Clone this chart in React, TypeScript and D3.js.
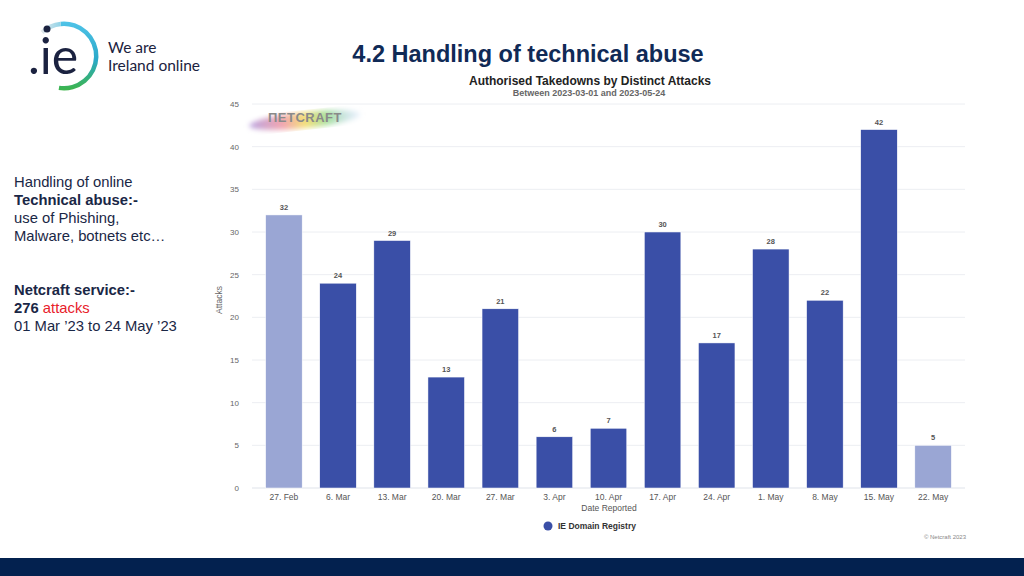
import React from "react";
import * as d3 from "d3";

const categories = ["27. Feb", "6. Mar", "13. Mar", "20. Mar", "27. Mar", "3. Apr", "10. Apr", "17. Apr", "24. Apr", "1. May", "8. May", "15. May", "22. May"];
const attacks = [32, 24, 29, 13, 21, 6, 7, 30, 17, 28, 22, 42, 5];
const partialWeek = [true, false, false, false, false, false, false, false, false, false, false, false, true];
const yTicks = [0, 5, 10, 15, 20, 25, 30, 35, 40, 45];

const W = 1024, H = 576;
const plotLeft = 252, plotRight = 965, y0 = 488, y45 = 104;

export default function App() {
  const x = d3.scaleBand<string>().domain(categories).range([257, 960]).paddingInner(0.325).paddingOuter(0.16);
  const y = d3.scaleLinear().domain([0, 45]).range([y0, y45]);
  const font = "Liberation Sans, Arial, Helvetica, sans-serif";
  const navy = "#102a56";
  const arc = d3.arc();
  const ringPath = arc({ innerRadius: 30, outerRadius: 34.5, startAngle: -0.1, endAngle: Math.PI * 1.05 }) as string;
  const ringPath2 = arc({ innerRadius: 30, outerRadius: 34.5, startAngle: -0.75, endAngle: -0.1 }) as string;
  return (
    <svg width={W} height={H} style={{ position: "absolute", left: 0, top: 0, background: "#fff" }} fontFamily={font}>
      <defs>
        <linearGradient id="ring" x1="0" y1="0" x2="0" y2="1">
          <stop offset="0" stopColor="#4fc3e8" />
          <stop offset="0.55" stopColor="#2aa9c9" />
          <stop offset="1" stopColor="#3db54a" />
        </linearGradient>
        <linearGradient id="ringTop" x1="0" y1="0" x2="1" y2="0">
          <stop offset="0" stopColor="#e6e8ea" />
          <stop offset="1" stopColor="#8fd3e8" />
        </linearGradient>
        <linearGradient id="rainbow" x1="0" y1="0" x2="1" y2="0">
          <stop offset="0" stopColor="#b9a3e0" />
          <stop offset="0.3" stopColor="#f2a6b0" />
          <stop offset="0.5" stopColor="#f4e07a" />
          <stop offset="0.7" stopColor="#a8e0a0" />
          <stop offset="1" stopColor="#a8c8f0" stopOpacity="0.2" />
        </linearGradient>
        <filter id="blur"><feGaussianBlur stdDeviation="2.5" /></filter>
      </defs>
      <rect x={0} y={0} width={W} height={H} fill="#fff" />

      {/* Logo */}
      <g transform="translate(64,56)">
        <path d={ringPath} fill="url(#ring)" />
        <path d={ringPath2} fill="url(#ringTop)" />
      </g>
      <circle cx={47} cy={29} r={3.5} fill="#1b2240" />
      <text x={28} y={74} fontSize={50} fill="#1b2240" fontFamily="Lato, sans-serif">.ie</text>
      <text x={108} y={53} fontSize={15.5} fill="#1b2240" fontFamily="Lato, sans-serif">We are</text>
      <text x={108} y={71} fontSize={15.5} fill="#1b2240" fontFamily="Lato, sans-serif">Ireland online</text>

      {/* Title */}
      <text x={528} y={62} textAnchor="middle" fontSize={23.5} fontWeight="bold" fill={navy}>4.2 Handling of technical abuse</text>

      {/* Left text */}
      <g fontSize={14.8} fill="#1a2746">
        <text x={14} y={187}>Handling of online</text>
        <text x={14} y={205} fontWeight="bold">Technical abuse:-</text>
        <text x={14} y={223}>use of Phishing,</text>
        <text x={14} y={241}>Malware, botnets etc…</text>
        <text x={14} y={295} fontWeight="bold">Netcraft service:-</text>
        <text x={14} y={313}><tspan fontWeight="bold">276 </tspan><tspan fill="#e8202a">attacks</tspan></text>
        <text x={14} y={331}>01 Mar ’23 to 24 May ’23</text>
      </g>

      {/* Chart titles */}
      <text x={590} y={85} textAnchor="middle" fontSize={12} fontWeight="bold" fill="#222">Authorised Takedowns by Distinct Attacks</text>
      <text x={589} y={96} textAnchor="middle" fontSize={9} fontWeight="bold" fill="#666">Between 2023-03-01 and 2023-05-24</text>

      {/* Netcraft logo */}
      <g>
        <ellipse cx={305} cy={120} rx={56} ry={8} fill="url(#rainbow)" filter="url(#blur)" transform="rotate(-6 305 120)" />
        <text x={268} y={122} fontSize={13} fontWeight="bold" fill="#8a8a8a" letterSpacing="0.5">ПETCRAFT</text>
      </g>

      {/* Grid */}
      {yTicks.map((t) => (
        <g key={t}>
          <line x1={plotLeft} x2={plotRight} y1={y(t)} y2={y(t)} stroke={t === 0 ? "#dfe3ea" : "#eceef2"} strokeWidth={1} />
          <text x={239} y={y(t) + 3} textAnchor="end" fontSize={8} fill="#666">{t}</text>
        </g>
      ))}
      <text transform={`translate(222,${y(22.5) + 4}) rotate(-90)`} textAnchor="middle" fontSize={8.5} fill="#666">Attacks</text>

      {/* Bars */}
      {categories.map((c, i) => (
        <g key={c}>
          <rect x={x(c)} y={y(attacks[i])} width={x.bandwidth()} height={y0 - y(attacks[i])} fill={partialWeek[i] ? "#9aa6d4" : "#3a4fa7"} stroke="#fff" strokeWidth={0.5} />
          <text x={(x(c) as number) + x.bandwidth() / 2} y={y(attacks[i]) - 5} textAnchor="middle" fontSize={7.5} fontWeight="bold" fill="#555">{attacks[i]}</text>
          <text x={(x(c) as number) + x.bandwidth() / 2} y={500} textAnchor="middle" fontSize={8.5} fill="#555">{c}</text>
        </g>
      ))}
      <text x={609} y={511} textAnchor="middle" fontSize={8.5} fill="#555">Date Reported</text>

      {/* Legend */}
      <circle cx={548} cy={526} r={4.5} fill="#3a4fa7" />
      <text x={558} y={529} fontSize={8.5} fontWeight="bold" fill="#333">IE Domain Registry</text>
      <text x={966} y={539} textAnchor="end" fontSize={6} fill="#888">© Netcraft 2023</text>

      {/* Bottom band */}
      <rect x={0} y={558} width={W} height={18} fill="#03214f" />
    </svg>
  );
}
